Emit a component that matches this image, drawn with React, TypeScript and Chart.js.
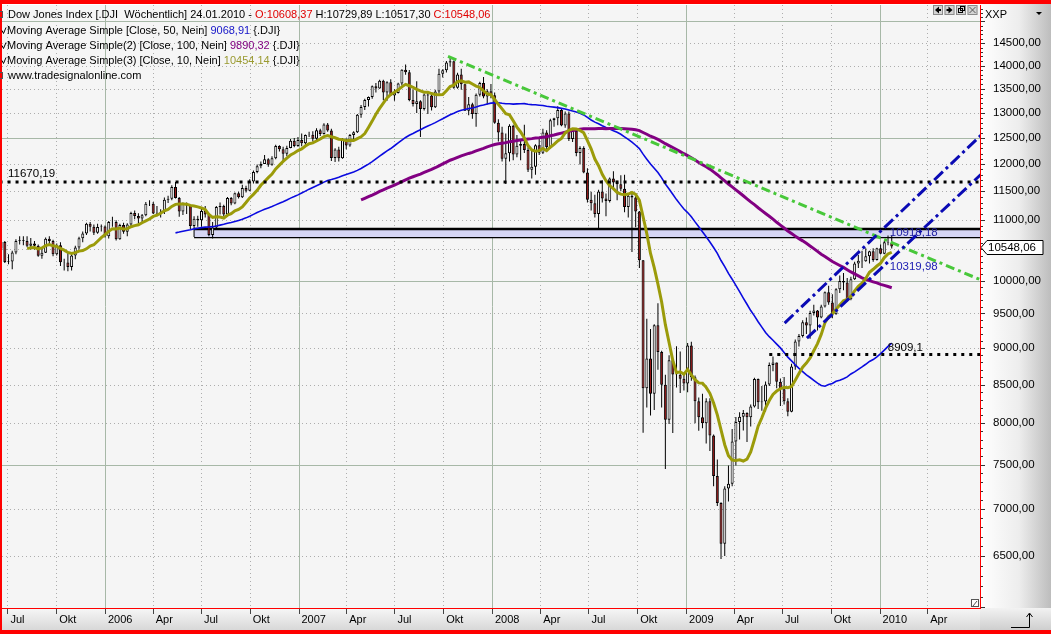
import React, { useEffect, useRef } from 'react';
import { Chart, registerables } from 'chart.js';

Chart.register(...registerables);

const FONT = '"Liberation Sans", Arial, Helvetica, sans-serif';

// ---------------- data (weekly bars, each dated by the Sunday after the trading week) ----------------
const firstWeek = '2005-06-05';

const opens = [
  10542,10460,10513,10623,10297,10303,10449,10641,10652,10641,10559,10600,10559,10397,10447,10679,10641,10420,10569,10292,10287,10215,10403,10531,10687,10766,10932,10878,10778,10876,10884,
  10718,10960,10960,10668,10908,10794,10919,11115,11062,11022,11077,11280,11280,11109,11121,11137,11347,11367,11578,11381,11144,11278,11248,10891,11015,10990,11150,11090,10739,10868,11220,11240,11088,11381,11284,11464,11392,11560,11508,11679,11850,11961,12002,12090,11986,12109,12343,12280,12194,12307,12445,12343,
  12463,12398,12556,12565,12487,12653,12580,12768,12647,12114,12276,12110,12481,12354,12560,12612,12961,13120,13264,13326,13556,13507,13668,13424,13639,13361,13409,13611,13908,13851,13266,13182,13240,13079,13379,13358,13113,13442,13821,13896,14066,14093,13522,13807,13595,13043,13177,12980,13372,13625,13339,13450,
  13366,12800,12606,12099,12207,12743,12182,12348,12381,12266,11894,11951,12361,12216,12610,12325,12849,12891,13058,12745,12986,12480,12638,12210,12308,11843,11347,11289,11100,11496,11371,11326,11734,11660,11628,11544,11220,11422,11388,11143,10325,8451,8852,8378,9325,8943,8497,8046,8829,8635,8630,8579,8515,
  9034,8599,8281,8077,8001,8280,7850,7366,7063,6627,7224,7279,7776,8018,8084,8131,8076,8212,8575,8268,8277,8500,8764,8799,8539,8438,8280,8146,8743,9093,9172,9370,9321,9505,9544,9441,9605,9820,9665,9488,9865,9996,9972,9713,10023,10270,10318,10310,10389,10472,10329,10520,10428,10618,10608.37,
];
const highs = [
  10565,10560,10680,10640,10420,10480,10670,10720,10720,10720,10690,10640,10580,10510,10700,10720,10660,10600,10620,10350,10460,10440,10560,10710,10800,10950,10960,10920,10930,10920,10900,
  10980,11050,10990,10930,10950,10940,11140,11160,11110,11100,11310,11340,11310,11240,11180,11390,11420,11610,11670,11400,11300,11300,11260,11060,11070,11190,11240,11110,10960,11240,11300,11260,11400,11400,11480,11490,11620,11600,11720,11880,11990,12050,12170,12110,12150,12370,12360,12330,12350,12480,12500,12520,
  12590,12570,12620,12630,12690,12680,12790,12795,12680,12300,12330,12500,12490,12580,12630,12980,13160,13290,13340,13570,13620,13690,13690,13660,13700,13490,13630,13920,14021,13900,13490,13660,13260,13400,13410,13380,13480,13930,13920,14100,14198,14110,13840,13930,13600,13330,13210,13400,13650,13750,13490,13600,
  13420,12870,12720,12590,12770,12760,12560,12460,12760,12320,12260,12380,12510,12680,12650,12880,12900,13136,13080,13030,13030,12690,12670,12340,12340,11920,11490,11440,11530,11700,11460,11750,11867,11690,11790,11800,11470,11460,11420,11150,10330,9420,9270,9340,9654,8960,8630,8900,8830,9026,8950,8630,9070,
  9088,8620,8330,8380,8320,8320,7860,7560,7070,7250,7490,7930,8080,8140,8170,8140,8240,8590,8580,8480,8540,8800,8880,8800,8580,8600,8320,8780,9120,9200,9400,9440,9540,9630,9550,9630,9830,9920,9790,9880,10080,10120,10040,10060,10300,10410,10480,10520,10480,10520,10530,10580,10640,10730,10729.89,
];
const lows = [
  10410,10400,10490,10280,10260,10180,10420,10580,10570,10540,10500,10500,10380,10350,10440,10590,10390,10400,10230,10160,10150,10160,10340,10500,10620,10740,10800,10740,10760,10800,10700,
  10680,10880,10650,10660,10760,10720,10890,11010,10940,10960,11060,11240,11100,11060,11040,11100,11290,11340,11370,11050,11080,11100,10840,10706,10880,10880,11040,10720,10680,10840,11090,11060,11080,11250,11270,11370,11380,11480,11500,11640,11830,11920,12000,11950,11970,12090,12240,12050,12150,12300,12320,12330,
  12340,12370,12520,12430,12460,12540,12570,12620,12060,12040,12050,12100,12280,12330,12470,12600,12900,13060,13130,13290,13420,13500,13260,13250,13350,13250,13400,13570,13800,13240,13130,13000,12518,13050,12980,13050,13100,13400,13740,13850,13980,13500,13500,13480,13040,12950,12880,12720,13340,13300,13170,13300,
  12780,12430,12050,11634,12050,12070,12130,12070,12210,11850,11731,11800,12170,12190,12260,12290,12720,12750,12730,12700,12440,12420,12150,11990,11830,11300,11160,11040,10827,11300,11060,11300,11540,11340,11500,11130,11040,10459,10870,10200,7882,8200,8100,8170,8700,8200,7449,7990,7880,8460,8390,8420,8400,
  8550,8000,7909,7940,7750,7660,7250,7030,6470,6500,7080,7250,7490,7800,7910,7770,7960,8200,8180,8160,8150,8480,8680,8450,8220,8240,8090,8140,8700,9020,9150,9200,9130,9470,9250,9430,9590,9630,9430,9480,9810,9850,9680,9700,10010,10200,10200,10300,10270,10300,10320,10420,10420,10570,10517.30,
];
const closes = [
  10460,10513,10623,10297,10303,10449,10641,10652,10641,10559,10600,10559,10397,10447,10679,10641,10420,10569,10292,10287,10215,10403,10531,10687,10766,10932,10878,10778,10876,10884,10718,
  10960,10960,10668,10908,10794,10919,11115,11062,11022,11077,11280,11279,11109,11121,11137,11347,11367,11578,11381,11144,11278,11248,10891,11015,10990,11150,11090,10739,10868,11220,11240,11088,11381,11284,11464,11392,11560,11508,11679,11850,11961,12002,12090,11986,12109,12343,12280,12194,12307,12445,12343,12463,
  12398,12556,12565,12487,12653,12580,12768,12647,12114,12276,12110,12481,12354,12560,12612,12961,13120,13264,13326,13556,13507,13668,13424,13639,13361,13409,13611,13908,13851,13266,13182,13240,13079,13379,13358,13113,13442,13821,13896,14066,14093,13522,13807,13595,13043,13177,12980,13372,13625,13339,13450,13366,
  12800,12606,12099,12207,12743,12182,12348,12381,12266,11894,11951,12361,12216,12610,12325,12849,12891,13058,12745,12986,12480,12638,12210,12308,11843,11347,11289,11100,11496,11371,11326,11734,11660,11628,11544,11220,11422,11388,11143,10325,8451,8852,8378,9325,8943,8497,8046,8829,8635,8630,8579,8515,9034,
  8599,8281,8077,8001,8280,7850,7366,7063,6627,7224,7279,7776,8018,8084,8131,8076,8212,8575,8268,8277,8500,8764,8799,8539,8438,8280,8146,8743,9093,9172,9370,9321,9505,9544,9441,9605,9820,9665,9488,9865,9996,9972,9713,10023,10270,10318,10310,10389,10472,10329,10520,10428,10618,10610,10548.06,
];

// moving average lengths (indicator settings)
const maLengths = [50, 100, 10];

// axis ticks
const xTickDates = ['2005-07-01','2005-10-01','2006-01-01','2006-04-01','2006-07-01','2006-10-01','2007-01-01','2007-04-01','2007-07-01','2007-10-01','2008-01-01','2008-04-01','2008-07-01','2008-10-01','2009-01-01','2009-04-01','2009-07-01','2009-10-01','2010-01-01','2010-04-01'];
const xTickLabels = ['Jul','Okt','2006','Apr','Jul','Okt','2007','Apr','Jul','Okt','2008','Apr','Jul','Okt','2009','Apr','Jul','Okt','2010','Apr'];
const yTickValues = [6500,7000,7500,8000,8500,9000,9500,10000,10500,11000,11500,12000,12500,13000,13500,14000,14500,15000];

// drawing tools
const greenTrendDates = ['2007-10-10', '2010-07-11'];
const greenTrendValues = [14200, 10012];
const channelUpperDates = ['2009-07-06', '2010-07-11'];
const channelUpperValues = [9358, 12550];
const channelLowerDates = ['2009-08-17', '2010-07-11'];
const channelLowerValues = [9141, 11805];
const resistanceDates = ['2005-06-01', '2010-07-11'];
const resistanceValues = [11670.19, 11670.19];
const supportDates = ['2009-06-07', '2010-07-11'];
const supportValues = [8909.1, 8909.1];
const bandDates = ['2006-06-18', '2010-07-11'];
const bandTopValues = [10840, 10840];
const bandBottomValues = [10706, 10706];

// header legend values
const maLegendValues = ['9068,91', '9890,32', '10454,14'];

// ---------------- helpers ----------------
const REF = Date.UTC(2006, 0, 1);
const weekOf = (d: string) => (Date.parse(d + 'T00:00:00Z') - REF) / (7 * 86400000);
const fmt = (v: number) => v.toFixed(2).replace('.', ',');

const X_MIN = -27.755;
const X_MAX = 235.785;
const Y_MIN = 5993;
const Y_MAX = 15390;

const GRID_SOLID = '#A7B8A7';
const GRID_DOT = '#ADADAD';

function candleX(i: number) {
  return weekOf(firstWeek) + i;
}

function sma(n: number) {
  const out: any[] = [];
  for (let i = n - 1; i < closes.length; i++) {
    let s = 0;
    for (let k = i - n + 1; k <= i; k++) s += closes[k];
    out.push({ x: candleX(i), y: s / n });
  }
  return out;
}

function seg(dates: string[], values: number[]) {
  return dates.map((d, i) => ({ x: weekOf(d), y: values[i] }));
}

function lineDs(data: any[], color: string, width: number, dash: number[], order: number, extra: any = {}) {
  return {
    type: 'line',
    data,
    borderColor: color,
    borderWidth: width,
    borderDash: dash,
    borderCapStyle: 'butt',
    pointRadius: 0,
    tension: 0,
    fill: false,
    clip: 0,
    order,
    ...extra,
  };
}

const decorPlugin = {
  id: 'decor',
  beforeDraw(chart: any) {
    const { ctx, chartArea: a, width, height } = chart;
    ctx.save();
    ctx.fillStyle = '#FFFFFF';
    ctx.fillRect(0, 0, width, height);
    ctx.fillStyle = '#F5F5F5';
    ctx.fillRect(a.left, a.top, a.right - a.left, a.bottom - a.top);
    const g = ctx.createLinearGradient(a.right, 0, width, 0);
    g.addColorStop(0, '#FFFFFF');
    g.addColorStop(0.55, '#EDEDED');
    g.addColorStop(1, '#BDBDBD');
    ctx.fillStyle = g;
    ctx.fillRect(a.right, 0, width - a.right, height);
    const g2 = ctx.createLinearGradient(0, a.bottom, 0, height);
    g2.addColorStop(0, '#F7F7F7');
    g2.addColorStop(1, '#D2D2D2');
    ctx.fillStyle = g2;
    ctx.fillRect(0, a.bottom, a.right, height - a.bottom);
    const g3 = ctx.createLinearGradient(0, a.bottom, 0, height);
    g3.addColorStop(0, '#F2F2F2');
    g3.addColorStop(1, '#C8C8C8');
    ctx.fillStyle = g3;
    ctx.fillRect(a.right, a.bottom, width - a.right, height - a.bottom);
    ctx.restore();
  },
  beforeDatasetsDraw(chart: any) {
    const { ctx, chartArea: a, scales } = chart;
    const x = scales.x;
    const y = scales.y;
    ctx.save();
    ctx.beginPath();
    ctx.rect(a.left, a.top, a.right - a.left, a.bottom - a.top);
    ctx.clip();
    ctx.lineWidth = 1;
    x.ticks.forEach((t: any, i: number) => {
      const px = Math.round(x.getPixelForValue(t.value)) + 0.5;
      const solid = /^\d{4}$/.test(xTickLabels[i] || '');
      ctx.strokeStyle = solid ? GRID_SOLID : GRID_DOT;
      ctx.setLineDash(solid ? [] : [1, 3]);
      ctx.beginPath();
      ctx.moveTo(px, a.top);
      ctx.lineTo(px, a.bottom);
      ctx.stroke();
    });
    y.ticks.forEach((t: any) => {
      const py = Math.round(y.getPixelForValue(t.value)) + 0.5;
      const solid = t.value % 2500 === 0;
      ctx.strokeStyle = solid ? GRID_SOLID : GRID_DOT;
      ctx.setLineDash(solid ? [] : [1, 3]);
      ctx.beginPath();
      ctx.moveTo(a.left, py);
      ctx.lineTo(a.right, py);
      ctx.stroke();
    });
    ctx.restore();
  },
  afterDraw(chart: any) {
    const { ctx, chartArea: a, width, height, scales } = chart;
    const x = scales.x;
    const y = scales.y;
    const last = closes.length - 1;
    ctx.save();

    // x tick marks
    ctx.strokeStyle = '#444';
    ctx.lineWidth = 1;
    x.ticks.forEach((t: any) => {
      const px = Math.round(x.getPixelForValue(t.value)) + 0.5;
      ctx.beginPath();
      ctx.moveTo(px, a.bottom + 1);
      ctx.lineTo(px, a.bottom + 6);
      ctx.stroke();
    });

    // y minor / major tick marks
    ctx.strokeStyle = '#333';
    for (let v = 6000; v <= 15300; v += 100) {
      if (v < Y_MIN || v > Y_MAX) continue;
      const py = Math.round(y.getPixelForValue(v)) + 0.5;
      const len = v % 500 === 0 ? 4 : 2;
      ctx.beginPath();
      ctx.moveTo(a.right + 1, py);
      ctx.lineTo(a.right + 1 + len, py);
      ctx.stroke();
    }

    // last price marker
    const pp = Math.round(y.getPixelForValue(closes[last])) + 0.5;
    ctx.beginPath();
    ctx.moveTo(a.right + 1, pp);
    ctx.lineTo(a.right + 7, pp - 7);
    ctx.lineTo(width - 8, pp - 7);
    ctx.lineTo(width - 8, pp + 7);
    ctx.lineTo(a.right + 7, pp + 7);
    ctx.closePath();
    ctx.fillStyle = '#FFFFFF';
    ctx.fill();
    ctx.strokeStyle = '#000';
    ctx.stroke();
    ctx.fillStyle = '#000';
    ctx.font = `11.5px ${FONT}`;
    ctx.textBaseline = 'middle';
    ctx.textAlign = 'left';
    ctx.fillText(fmt(closes[last]), a.right + 8, pp + 0.5);

    // axis title "XXP" and dropdown
    ctx.font = `11px ${FONT}`;
    ctx.fillText('XXP', a.right + 5, 15);
    ctx.beginPath();
    ctx.moveTo(width - 15, 12);
    ctx.lineTo(width - 9, 12);
    ctx.lineTo(width - 12, 15);
    ctx.closePath();
    ctx.fill();

    // red frame
    ctx.fillStyle = '#FF0000';
    ctx.fillRect(0, 0, width, 4);
    ctx.fillRect(0, height - 4, width, 4);
    ctx.fillRect(0, 0, 2, height);
    ctx.fillRect(a.right, a.top, 1, a.bottom - a.top + 1);
    ctx.fillRect(0, a.bottom, a.right, 1);

    // corner arrow
    ctx.strokeStyle = '#000';
    ctx.lineWidth = 1;
    ctx.beginPath();
    ctx.moveTo(1011, 627.5);
    ctx.lineTo(1029.5, 627.5);
    ctx.lineTo(1029.5, 614);
    ctx.stroke();
    ctx.beginPath();
    ctx.moveTo(1026.5, 617);
    ctx.lineTo(1029.5, 613);
    ctx.lineTo(1032.5, 617);
    ctx.stroke();

    // small resize icon in plot corner
    ctx.fillStyle = '#FFFFFF';
    ctx.fillRect(a.right - 8, a.bottom - 8, 7, 7);
    ctx.strokeStyle = '#555';
    ctx.strokeRect(a.right - 8.5, a.bottom - 8.5, 7, 7);
    ctx.beginPath();
    ctx.moveTo(a.right - 7, a.bottom - 2);
    ctx.lineTo(a.right - 3, a.bottom - 7);
    ctx.stroke();

    // window buttons top-right
    const bx = a.right - 47;
    for (let i = 0; i < 4; i++) {
      const x0 = bx + i * 11.5;
      ctx.fillStyle = '#D4D4D4';
      ctx.fillRect(x0, 5, 10, 10);
      ctx.strokeStyle = '#8A8A8A';
      ctx.strokeRect(x0 + 0.5, 5.5, 9, 9);
    }
    ctx.fillStyle = '#000';
    ctx.beginPath();
    ctx.moveTo(bx + 2, 10); ctx.lineTo(bx + 6, 6.5); ctx.lineTo(bx + 6, 13.5); ctx.closePath(); ctx.fill();
    ctx.fillRect(bx + 5, 9, 3, 2);
    const b2 = bx + 11.5;
    ctx.beginPath();
    ctx.moveTo(b2 + 8, 10); ctx.lineTo(b2 + 4, 6.5); ctx.lineTo(b2 + 4, 13.5); ctx.closePath(); ctx.fill();
    ctx.fillRect(b2 + 2, 9, 3, 2);
    const b3 = bx + 23;
    ctx.strokeStyle = '#000';
    ctx.strokeRect(b3 + 4.5, 6.5, 4, 4);
    ctx.strokeRect(b3 + 2.5, 8.5, 4, 4);
    const b4 = bx + 34.5;
    ctx.strokeStyle = '#555';
    ctx.beginPath();
    ctx.moveTo(b4 + 2, 7); ctx.lineTo(b4 + 8, 13);
    ctx.moveTo(b4 + 8, 7); ctx.lineTo(b4 + 2, 13);
    ctx.stroke();

    // header legend
    ctx.font = `11px ${FONT}`;
    ctx.textBaseline = 'middle';
    const lines: [string, string][][] = [
      [
        ['Dow Jones Index [.DJI  W\u00f6chentlich] 24.01.2010 - ', '#000'],
        ['O:' + fmt(opens[last]), '#E00000'],
        [' H:' + fmt(highs[last]) + ' L:' + fmt(lows[last]) + ' ', '#000'],
        ['C:' + fmt(closes[last]), '#E00000'],
      ],
      [['Moving Average Simple [Close, ' + maLengths[0] + ', Nein] ', '#000'], [maLegendValues[0], '#1414C8'], [' {.DJI}', '#000']],
      [['Moving Average Simple(2) [Close, ' + maLengths[1] + ', Nein] ', '#000'], [maLegendValues[1], '#800080'], [' {.DJI}', '#000']],
      [['Moving Average Simple(3) [Close, ' + maLengths[2] + ', Nein] ', '#000'], [maLegendValues[2], '#9A9A30'], [' {.DJI}', '#000']],
      [['www.tradesignalonline.com', '#000']],
    ];
    const lineY = [15, 30.5, 45.5, 60.5, 76];
    lines.forEach((parts, li) => {
      let tx = li >= 1 && li <= 3 ? 7 : 8;
      parts.forEach(([txt, col]) => {
        ctx.fillStyle = col;
        ctx.fillText(txt, tx, lineY[li]);
        tx += ctx.measureText(txt).width;
      });
    });
    // legend icons
    ctx.strokeStyle = '#555';
    ctx.lineWidth = 1;
    ctx.strokeRect(-2.5, 11.5, 5, 6);
    ctx.strokeRect(-2.5, 72.5, 5, 6);
    ctx.strokeStyle = '#000';
    for (let li = 1; li <= 3; li++) {
      const cy = lineY[li];
      ctx.beginPath();
      ctx.moveTo(2, cy);
      ctx.lineTo(3.5, cy + 3);
      ctx.lineTo(6, cy - 3);
      ctx.stroke();
    }

    // value labels of drawing tools
    const lx = x.getPixelForValue(candleX(last));
    ctx.font = `11.5px ${FONT}`;
    ctx.fillStyle = '#000';
    ctx.fillText(fmt(resistanceValues[0]), a.left + 6, y.getPixelForValue(resistanceValues[0]) - 8);
    ctx.fillText(String(supportValues[0]).replace('.', ','), lx - 4, y.getPixelForValue(supportValues[0]) - 7);
    ctx.fillStyle = '#1E1EA0';
    ctx.fillText('10918,18', lx - 2, y.getPixelForValue((bandTopValues[0] + bandBottomValues[0]) / 2));
    ctx.fillStyle = '#2020B4';
    ctx.fillText('10319,98', lx - 2, y.getPixelForValue(10319.98) + 6);

    ctx.restore();
  },
};

export default function App() {
  const ref = useRef<HTMLCanvasElement | null>(null);

  useEffect(() => {
    document.body.style.margin = '0';
    const canvas = ref.current;
    if (!canvas) return;

    const wickData = closes.map((_, i) => ({ x: candleX(i), y: [lows[i], highs[i]] }));
    const bodyData = closes.map((c, i) => ({ x: candleX(i), y: [opens[i], c] }));
    const bodyColors = closes.map((c, i) => (c >= opens[i] ? '#FFFFFF' : '#991818'));

    const chart = new Chart(canvas, {
      type: 'bar',
      data: {
        datasets: [
          lineDs(seg(bandDates, bandTopValues), '#000000', 2.5, [], 9, { fill: '+1', backgroundColor: 'rgba(214,214,244,1)' }),
          lineDs(seg(bandDates, bandBottomValues), '#000000', 2.5, [], 9),
          {
            type: 'bar',
            data: wickData,
            backgroundColor: '#000000',
            borderWidth: 0,
            barThickness: 1,
            grouped: false,
            inflateAmount: 0,
            order: 8,
          },
          {
            type: 'bar',
            data: bodyData,
            backgroundColor: bodyColors,
            borderColor: '#000000',
            borderWidth: 1,
            borderSkipped: false,
            barThickness: 3,
            grouped: false,
            inflateAmount: 0,
            order: 7,
          },
          lineDs(sma(maLengths[0]), '#0A0AE0', 1.6, [], 6),
          lineDs(sma(maLengths[1]), '#820082', 3, [], 5),
          lineDs(sma(maLengths[2]), '#9B9B0A', 3, [], 4),
          lineDs(seg(resistanceDates, resistanceValues), '#000000', 3, [3, 5], 3),
          lineDs(seg(supportDates, supportValues), '#000000', 3, [3, 5], 3),
          lineDs(seg(greenTrendDates, greenTrendValues), '#48C83A', 3, [9, 4, 3, 4], 2),
          lineDs(seg(channelUpperDates, channelUpperValues), '#0A0AB4', 3, [12, 4, 3, 4], 1),
          lineDs(seg(channelLowerDates, channelLowerValues), '#0A0AB4', 3, [12, 4, 3, 4], 1),
        ] as any,
      },
      options: {
        responsive: false,
        animation: false,
        events: [],
        devicePixelRatio: 1,
        layout: { padding: { left: 2, top: 5, right: 0, bottom: 0 } },
        plugins: { legend: { display: false }, tooltip: { enabled: false } },
        scales: {
          x: {
            type: 'linear',
            min: X_MIN,
            max: X_MAX,
            bounds: 'data',
            offset: false,
            grid: { display: false },
            border: { display: false },
            afterBuildTicks: (s: any) => {
              s.ticks = xTickDates.map((d) => ({ value: weekOf(d) }));
            },
            afterFit: (s: any) => {
              s.height = 26;
              s.paddingLeft = 0;
              s.paddingRight = 0;
            },
            ticks: {
              autoSkip: false,
              maxRotation: 0,
              minRotation: 0,
              align: 'start',
              labelOffset: 3,
              padding: -3,
              color: '#000',
              font: { family: FONT, size: 11 },
              callback: (_v: any, i: number) => xTickLabels[i],
            },
          },
          y: {
            type: 'logarithmic',
            position: 'right',
            min: Y_MIN,
            max: Y_MAX,
            bounds: 'data',
            grid: { display: false },
            border: { display: false },
            afterBuildTicks: (s: any) => {
              s.ticks = yTickValues.map((v) => ({ value: v }));
            },
            afterFit: (s: any) => {
              s.width = 71;
              s.paddingTop = 0;
              s.paddingBottom = 0;
            },
            ticks: {
              autoSkip: false,
              padding: 5,
              crossAlign: 'near',
              color: '#000',
              font: { family: FONT, size: 11.5 },
              callback: (v: any) => (Number(v) >= 15000 ? '' : fmt(Number(v))),
            },
          },
        },
      } as any,
      plugins: [decorPlugin as any],
    });

    return () => chart.destroy();
  }, []);

  return (
    <div style={{ width: 1051, height: 634 }}>
      <canvas ref={ref} width={1051} height={634} style={{ display: 'block' }} />
    </div>
  );
}
